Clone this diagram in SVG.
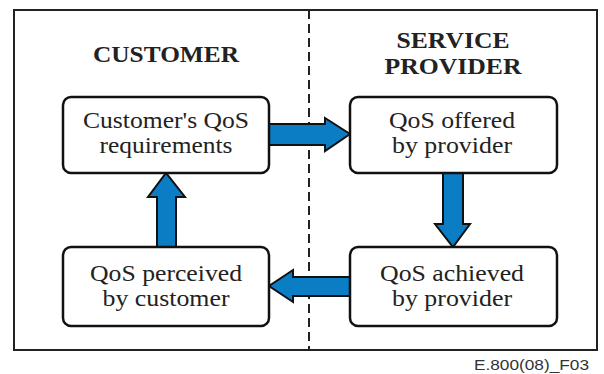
<svg xmlns="http://www.w3.org/2000/svg" width="604" height="374" viewBox="0 0 604 374">
<style>
.frame{fill:#fff;stroke:#222;stroke-width:2}
.box{fill:#fff;stroke:#111;stroke-width:2.5}
.lbl{font-family:'Liberation Serif','Times New Roman',serif;font-size:24px;fill:#222;text-anchor:middle}
.hdr{font-family:'Liberation Serif','Times New Roman',serif;font-size:23px;font-weight:bold;fill:#222;text-anchor:middle}
.arr{fill:#0b7dc4;stroke:#111;stroke-width:2;stroke-linejoin:miter}
.note{font-family:'Liberation Sans',Arial,sans-serif;font-size:14px;fill:#333}
</style>
<rect width="604" height="374" fill="#fff"/>
<rect class="frame" x="14" y="10" width="583" height="340"/>
<line x1="309" y1="10" x2="309" y2="350" stroke="#222" stroke-width="2" stroke-dasharray="9,5"/>
<text class="hdr" x="166" y="62" textLength="146" lengthAdjust="spacingAndGlyphs">CUSTOMER</text>
<text class="hdr" x="453" y="48" textLength="113" lengthAdjust="spacingAndGlyphs">SERVICE</text>
<text class="hdr" x="453" y="74" textLength="137" lengthAdjust="spacingAndGlyphs">PROVIDER</text>
<g id="connectors">
<polygon class="arr" points="269,124 325,124 325,118 350,134 325,151 325,145 269,145"/>
<polygon class="arr" points="443,173 463,173 463,224 470,224 453,247 435,224 443,224"/>
<polygon class="arr" points="350,277 293,277 293,270 269,286 293,302 293,296 350,296"/>
<polygon class="arr" points="157,247 176,247 176,197 185,197 166,173 148,197 157,197"/>
</g>
<g id="n1">
<rect class="box" x="63" y="97" width="206" height="76" rx="8"/>
<text class="lbl" x="166" y="128" textLength="166" lengthAdjust="spacingAndGlyphs">Customer's QoS</text>
<text class="lbl" x="166" y="153" textLength="133" lengthAdjust="spacingAndGlyphs">requirements</text>
</g>
<g id="n2">
<rect class="box" x="350" y="97" width="207" height="76" rx="8"/>
<text class="lbl" x="452" y="128" textLength="126" lengthAdjust="spacingAndGlyphs">QoS offered</text>
<text class="lbl" x="452" y="153" textLength="120" lengthAdjust="spacingAndGlyphs">by provider</text>
</g>
<g id="n3">
<rect class="box" x="63" y="247" width="206" height="79" rx="8"/>
<text class="lbl" x="166" y="281" textLength="152" lengthAdjust="spacingAndGlyphs">QoS perceived</text>
<text class="lbl" x="166" y="306" textLength="127" lengthAdjust="spacingAndGlyphs">by customer</text>
</g>
<g id="n4">
<rect class="box" x="350" y="247" width="207" height="79" rx="8"/>
<text class="lbl" x="452" y="281" textLength="144" lengthAdjust="spacingAndGlyphs">QoS achieved</text>
<text class="lbl" x="452" y="306" textLength="120" lengthAdjust="spacingAndGlyphs">by provider</text>
</g>
<text class="note" x="474" y="370" textLength="115" lengthAdjust="spacingAndGlyphs">E.800(08)_F03</text>
</svg>
